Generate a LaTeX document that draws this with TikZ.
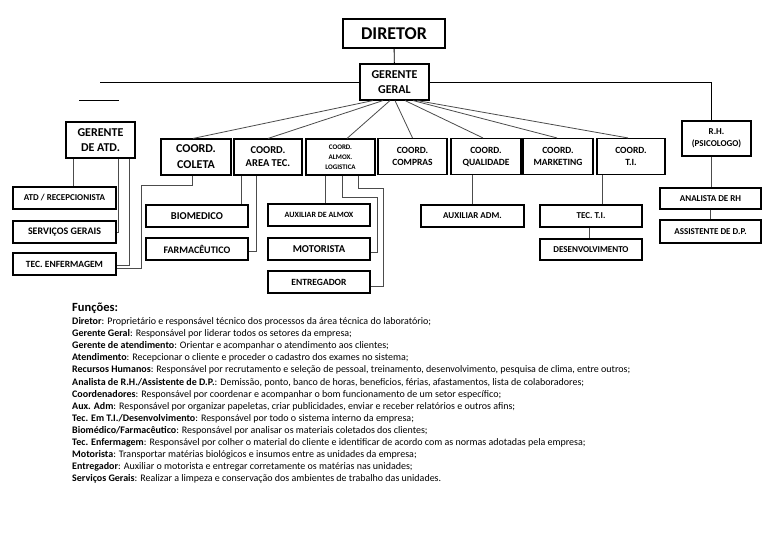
\documentclass[tikz,border=0pt]{standalone}
\usepackage{fontspec}
\setmainfont{Carlito}
\begin{document}
\begin{tikzpicture}[x=1pt,y=-1pt,
  box/.style={draw=black, line width=1.1pt, inner sep=0pt, align=center},
  conn/.style={draw=black!70, line width=0.8pt},
  topconn/.style={draw=black, line width=0.9pt},
  txt/.style={anchor=base west, inner sep=0pt, font=\fontsize{10}{12}\selectfont}]
\useasboundingbox[fill=white] (0,0) rectangle (768,543);

% top
\node[box, minimum width=102pt, minimum height=29pt, font=\bfseries\fontsize{18}{20}\selectfont] (dir) at (394,33.5) {DIRETOR};
\node[box, minimum width=69pt, minimum height=36pt, font=\bfseries\fontsize{12}{14.5}\selectfont] (gg) at (394.5,82) {GERENTE\\GERAL};

% coordinators
\node[box, minimum width=69pt, minimum height=36pt, font=\bfseries\fontsize{12}{15.5}\selectfont] (gatd) at (100.5,140) {GERENTE\\DE ATD.};
\node[box, minimum width=70pt, minimum height=36pt, font=\bfseries\fontsize{12}{16}\selectfont] (coleta) at (196,157) {COORD.\\COLETA};
\node[box, minimum width=68pt, minimum height=36pt, font=\bfseries\fontsize{10.5}{13}\selectfont] (areatec) at (268,157) {COORD.\\AREA TEC.};
\node[box, minimum width=69pt, minimum height=36pt, font=\bfseries\fontsize{7}{10}\selectfont] (almox) at (340.5,157) {COORD.\\ALMOX.\\LOGISTICA};
\node[box, minimum width=69pt, minimum height=36pt, font=\bfseries\fontsize{9.5}{12}\selectfont] (compras) at (412.5,156.5) {COORD.\\COMPRAS};
\node[box, minimum width=70pt, minimum height=36pt, font=\bfseries\fontsize{9.5}{12}\selectfont] (qual) at (486,156.5) {COORD.\\QUALIDADE};
\node[box, minimum width=70pt, minimum height=36pt, font=\bfseries\fontsize{9.5}{12}\selectfont] (mkt) at (558,156.5) {COORD.\\MARKETING};
\node[box, minimum width=68pt, minimum height=36pt, font=\bfseries\fontsize{9.5}{12}\selectfont] (ti) at (631,156.5) {COORD.\\T.I.};
\node[box, minimum width=69pt, minimum height=35pt, font=\bfseries\fontsize{9}{12}\selectfont] (rh) at (716.5,138.5) {R.H.\\(PSICOLOGO)};

% staff
\node[box, minimum width=103pt, minimum height=22pt, font=\bfseries\fontsize{9}{10}\selectfont] (atd) at (64.5,198) {ATD / RECEPCIONISTA};
\node[box, minimum width=103pt, minimum height=22pt, font=\bfseries\fontsize{10}{12}\selectfont] (serv) at (64.5,232) {SERVIÇOS GERAIS};
\node[box, minimum width=103pt, minimum height=22pt, font=\bfseries\fontsize{9.5}{11}\selectfont] (tecenf) at (64.5,264) {TEC. ENFERMAGEM};
\node[box, minimum width=102pt, minimum height=22pt, font=\bfseries\fontsize{10.5}{12}\selectfont] (bio) at (197,216) {BIOMEDICO};
\node[box, minimum width=102pt, minimum height=22pt, font=\bfseries\fontsize{10}{12}\selectfont] (farm) at (197,249) {FARMACÊUTICO};
\node[box, minimum width=102pt, minimum height=22pt, font=\bfseries\fontsize{8}{10}\selectfont] (auxalm) at (319,215) {AUXILIAR DE ALMOX};
\node[box, minimum width=102pt, minimum height=22pt, font=\bfseries\fontsize{10.5}{12}\selectfont] (mot) at (319,249) {MOTORISTA};
\node[box, minimum width=102pt, minimum height=22pt, font=\bfseries\fontsize{9.5}{11}\selectfont] (entreg) at (319,282) {ENTREGADOR};
\node[box, minimum width=103pt, minimum height=22pt, font=\bfseries\fontsize{9}{10}\selectfont] (auxadm) at (472.5,216) {AUXILIAR ADM.};
\node[box, minimum width=102pt, minimum height=22pt, font=\bfseries\fontsize{9}{10}\selectfont] (tecti) at (591,216) {TEC. T.I.};
\node[box, minimum width=102pt, minimum height=21pt, font=\bfseries\fontsize{9}{10}\selectfont] (desenv) at (591,249.5) {DESENVOLVIMENTO};
\node[box, minimum width=101pt, minimum height=21pt, font=\bfseries\fontsize{9}{10}\selectfont] (anarh) at (710.5,198.5) {ANALISTA DE RH};
\node[box, minimum width=101pt, minimum height=23pt, font=\bfseries\fontsize{9}{10}\selectfont] (assdp) at (710.5,231.5) {ASSISTENTE DE D.P.};

% free-end and bend coordinates
\coordinate (lend) at (100,82);
\coordinate (sa) at (79,100);
\coordinate (sb) at (119,100);
\coordinate (b1) at (141,185);
\coordinate (b2) at (377,197);
\coordinate (b3) at (383,188);

% top connectors
\draw[topconn] (dir) -- (gg);
\draw[topconn] (gg.west) -- (lend);
\draw[topconn] (sa) -- (sb);
\draw[topconn] (gg.east) -| ([xshift=-5.5pt]rh.north);

% fan
\draw[conn] ([xshift=-21.5pt]gg.south) -- ([xshift=-3pt]coleta.north);
\draw[conn] ([xshift=-11.5pt]gg.south) -- (areatec.north);
\draw[conn] ([xshift=-4.5pt]gg.south) -- ([xshift=6.5pt]almox.north);
\draw[conn] ([xshift=0.5pt]gg.south) -- (compras.north);
\draw[conn] ([xshift=10.5pt]gg.south) -- ([xshift=-3pt]qual.north);
\draw[conn] ([xshift=18.5pt]gg.south) -- ([xshift=-1pt]mkt.north);
\draw[conn] ([xshift=22.5pt]gg.south) -- ([xshift=-3pt]ti.north);

% left branch
\draw[conn] ([xshift=-27.5pt]gatd.south) -- ([xshift=-27.5pt]gatd.south |- atd.north);
\draw[conn] ([xshift=17.5pt]gatd.south) |- (serv.east);
\draw[conn] ([xshift=28.5pt]gatd.south) |- ([yshift=-1pt]tecenf.east);
\draw[conn] ([xshift=-4pt]coleta.south) |- (b1) |- ([yshift=-4pt]tecenf.east);

% area tec
\draw[conn] ([xshift=-27pt]areatec.south) -- ([xshift=-27pt]areatec.south |- bio.north);
\draw[conn] ([xshift=-12pt]areatec.south) |- ([yshift=-2pt]farm.east);

% almox
\draw[conn] ([xshift=-15.5pt]almox.south) -- ([xshift=-15.5pt]almox.south |- auxalm.north);
\draw[conn] ([xshift=1.5pt]almox.south) |- (b2) |- ([yshift=-3pt]mot.east);
\draw[conn] ([xshift=17.5pt]almox.south) |- (b3) |- ([yshift=-4pt]entreg.east);

% right
\draw[conn] ([xshift=-14pt]qual.south) -- ([xshift=-14pt]qual.south |- auxadm.north);
\draw[conn] ([xshift=-29pt]ti.south) -- ([xshift=-29pt]ti.south |- tecti.north);
\draw[conn] ([xshift=-2pt]tecti.south) -- ([xshift=-2pt]desenv.north);
\draw[conn] ([xshift=-5.5pt]rh.south) -- ([xshift=-5.5pt]rh.south |- anarh.north);
\draw[conn] (anarh) -- (assdp);

% functions text
\node[anchor=base west, inner sep=0pt, font=\bfseries\fontsize{12.5}{14}\selectfont] (fun) at (72,311) {Funções:};
\node[txt] (l1) at (72,324.5) {\textbf{Diretor}: Proprietário e responsável técnico dos processos da área técnica do laboratório;};
\node[txt] (l2) at (72,336.6) {\textbf{Gerente Geral}: Responsável por liderar todos os setores da empresa;};
\node[txt] (l3) at (72,348.7) {\textbf{Gerente de atendimento}: Orientar e acompanhar o atendimento aos clientes;};
\node[txt] (l4) at (72,360.8) {\textbf{Atendimento}: Recepcionar o cliente e proceder o cadastro dos exames no sistema;};
\node[txt] (l5) at (72,372.9) {\textbf{Recursos Humanos}: Responsável por recrutamento e seleção de pessoal, treinamento, desenvolvimento, pesquisa de clima, entre outros;};
\node[txt] (l6) at (72,385) {\textbf{Analista de R.H./Assistente de D.P.}: Demissão, ponto, banco de horas, beneficios, férias, afastamentos, lista de colaboradores;};
\node[txt] (l7) at (72,397.1) {\textbf{Coordenadores}: Responsável por coordenar e acompanhar o bom funcionamento de um setor específico;};
\node[txt] (l8) at (72,409.2) {\textbf{Aux. Adm}: Responsável por organizar papeletas, criar publicidades, enviar e receber relatórios e outros afins;};
\node[txt] (l9) at (72,421.3) {\textbf{Tec. Em T.I./Desenvolvimento}: Responsável por todo o sistema interno da empresa;};
\node[txt] (l10) at (72,433.4) {\textbf{Biomédico/Farmacêutico}: Responsável por analisar os materiais coletados dos clientes;};
\node[txt] (l11) at (72,445.5) {\textbf{Tec. Enfermagem}: Responsável por colher o material do cliente e identificar de acordo com as normas adotadas pela empresa;};
\node[txt] (l12) at (72,457.6) {\textbf{Motorista}: Transportar matérias biológicos e insumos entre as unidades da empresa;};
\node[txt] (l13) at (72,469.7) {\textbf{Entregador}: Auxiliar o motorista e entregar corretamente os matérias nas unidades;};
\node[txt] (l14) at (72,481.8) {\textbf{Serviços Gerais}: Realizar a limpeza e conservação dos ambientes de trabalho das unidades.};
\end{tikzpicture}
\end{document}
